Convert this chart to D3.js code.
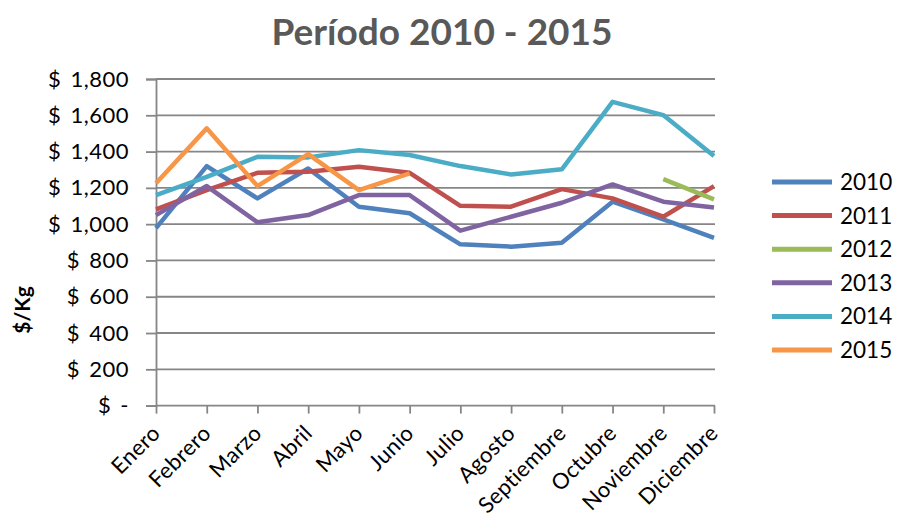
<!DOCTYPE html>
<html><head><meta charset="utf-8">
<script src="https://cdn.jsdelivr.net/npm/d3@7"></script>
<style>body{margin:0;background:#fff}svg{display:block}text{font-family:Lato,"Open Sans",sans-serif}</style>
</head><body>
<svg id="c" width="900" height="521"></svg>
<script>
const months = ["Enero","Febrero","Marzo","Abril","Mayo","Junio","Julio","Agosto","Septiembre","Octubre","Noviembre","Diciembre"];
const years = ["2010","2011","2012","2013","2014","2015"];
const s2010 = [978,1320,1142,1307,1096,1060,889,876,898,1124,1026,925];
const s2011 = [1081,1188,1283,1289,1316,1283,1101,1096,1193,1142,1041,1210];
const s2012 = [null,null,null,null,null,null,null,null,null,null,1248,1137];
const s2013 = [1050,1210,1010,1050,1160,1160,964,1041,1118,1219,1124,1092];
const s2014 = [1160,1261,1371,1368,1408,1381,1320,1274,1302,1674,1601,1375];
const s2015 = [1225,1528,1210,1386,1188,1280,null,null,null,null,null,null];
const yTicks = [0,200,400,600,800,1000,1200,1400,1600,1800];
const colors = ["#4F81BD","#C0504D","#9BBB59","#8064A2","#4BACC6","#F79646"];
const seriesList = [s2010,s2011,s2012,s2013,s2014,s2015];

const svg = d3.select("#c");
const x = d3.scalePoint().domain(months).range([156,714]);
const y = d3.scaleLinear().domain([0,1800]).range([405.6,79]);
const grid = "#868686";

// gridlines
svg.append("g").selectAll("line").data(yTicks.slice(1)).join("line")
  .attr("x1",156).attr("x2",715).attr("y1",d=>y(d)).attr("y2",d=>y(d))
  .attr("stroke",grid).attr("stroke-width",1.8);

// y axis
const fmt = d => d===0 ? "$ -" : "$ " + d3.format(",")(d);
const ya = svg.append("g").attr("transform","translate(156,0)")
  .call(d3.axisLeft(y).tickValues(yTicks).tickFormat(fmt).tickSize(10).tickPadding(17));
ya.select(".domain").attr("stroke",grid).attr("stroke-width",1.8);
ya.selectAll(".tick line").attr("stroke",grid).attr("stroke-width",1.8);
ya.selectAll("text").attr("font-size",22).attr("fill","#000").attr("font-family","Lato")
  .attr("letter-spacing","0.5px").attr("word-spacing","3px");

// x axis
const xa = svg.append("g").attr("transform","translate(0,405.6)")
  .call(d3.axisBottom(x).tickSize(8).tickSizeOuter(0));
xa.select(".domain").attr("stroke",grid).attr("stroke-width",1.8).attr("d","M156,0H715");
xa.selectAll(".tick line").attr("stroke",grid).attr("stroke-width",1.8);
xa.selectAll("text").attr("font-size",22).attr("fill","#000").attr("font-family","Lato")
  .attr("letter-spacing","0.3px")
  .attr("text-anchor","end").attr("dy",0).attr("y",0)
  .attr("transform","translate(5,29) rotate(-45)");

// lines
const line = d3.line().defined(d=>d!=null).x((d,i)=>x(months[i])).y(d=>y(d));
seriesList.forEach((s,k)=>{
  svg.append("path").datum(s).attr("d",line).attr("fill","none")
    .attr("stroke",colors[k]).attr("stroke-width",4.5).attr("stroke-linejoin","round");
});

// title
svg.append("text").attr("x",442).attr("y",45).attr("text-anchor","middle")
  .attr("font-size",37).attr("font-weight","bold").attr("fill","#595959").text("Período 2010 - 2015");

// y label
svg.append("text").attr("transform","translate(30,310) rotate(-90)").attr("text-anchor","middle")
  .attr("font-size",21).attr("font-weight","bold").attr("fill","#000").text("$/Kg");

// legend
const lg = svg.append("g");
years.forEach((yr,k)=>{
  const yy = 182 + k*33.6;
  lg.append("line").attr("x1",772).attr("x2",832).attr("y1",yy).attr("y2",yy)
    .attr("stroke",colors[k]).attr("stroke-width",5);
  lg.append("text").attr("x",840).attr("y",yy+8).attr("font-size",22.5).attr("fill","#000").text(yr);
});
</script>
</body></html>
